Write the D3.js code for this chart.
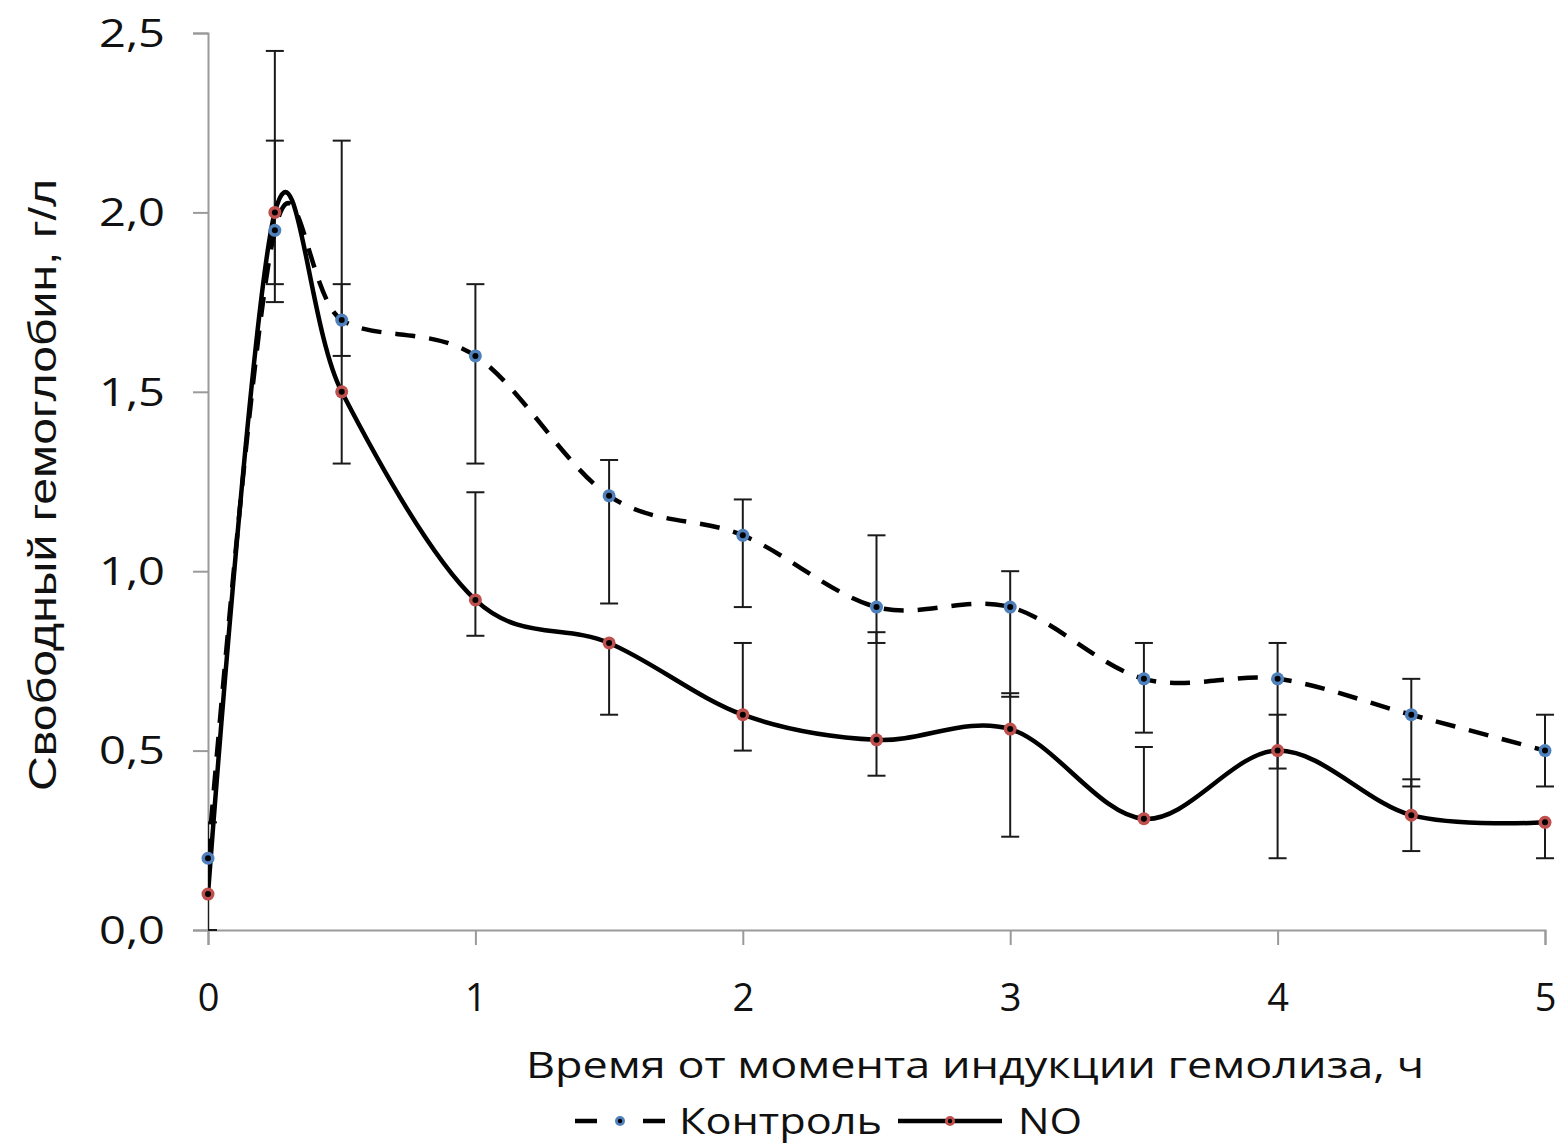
<!DOCTYPE html>
<html><head><meta charset="utf-8">
<script src="https://cdn.jsdelivr.net/npm/d3@7"></script>
<style>body{margin:0;background:#fff}svg{display:block}</style>
</head><body>
<script>
const times = [0, 0.25, 0.5, 1, 1.5, 2, 2.5, 3, 3.5, 4, 4.5, 5];
const controlValues = [0.2, 1.95, 1.7, 1.6, 1.21, 1.1, 0.9, 0.9, 0.7, 0.7, 0.6, 0.5];
const controlLow  = [0.2, 1.75, 1.6, 1.3, 0.91, 0.9, 0.8, 0.65, 0.55, 0.45, 0.4, 0.4];
const controlHigh = [0.3, 2.2, 2.2, 1.8, 1.31, 1.2, 1.1, 1.0, 0.8, 0.8, 0.7, 0.6];
const noValues = [0.1, 2.0, 1.5, 0.92, 0.8, 0.6, 0.53, 0.56, 0.31, 0.5, 0.32, 0.3];
const noLow  = [0.0, 1.8, 1.3, 0.82, 0.6, 0.5, 0.43, 0.26, 0.31, 0.2, 0.22, 0.2];
const noHigh = [0.1, 2.45, 1.8, 1.22, 0.8, 0.8, 0.83, 0.66, 0.51, 0.6, 0.42, 0.3];
const yTicks = [0, 0.5, 1.0, 1.5, 2.0, 2.5];
const xTicks = [0, 1, 2, 3, 4, 5];
const seriesNames = ["Контроль", "NO"];
const seriesColors = ["#4f81bd", "#c0504d"];
const xTitle = "Время от момента индукции гемолиза, ч";
const yTitle = "Свободный гемоглобин, г/л";

const W = 1563, H = 1145;
const svg = d3.select("body").append("svg").attr("width", W).attr("height", H);
const x = d3.scaleLinear().domain([0, 5]).range([208, 1545]);
const y = d3.scaleLinear().domain([0, 2.5]).range([930, 33]);
const font = "'Open Sans', sans-serif";

svg.append("defs").append("clipPath").attr("id", "plot")
  .append("rect").attr("x", 208).attr("y", 0).attr("width", 1360).attr("height", 931);

// axes
const yAxis = svg.append("g").attr("transform", "translate(208,0)")
  .call(d3.axisLeft(y).tickValues(yTicks).tickSize(15).tickPadding(28)
    .tickFormat(d => d3.format(".1f")(d).replace(".", ",")));
const xAxis = svg.append("g").attr("transform", "translate(0,930)")
  .call(d3.axisBottom(x).tickValues(xTicks).tickSize(15).tickPadding(39).tickFormat(d3.format("d")));
[yAxis, xAxis].forEach(g => {
  g.select(".domain").attr("stroke", "#9a9a9a").attr("stroke-width", 2);
  g.selectAll(".tick line").attr("stroke", "#9a9a9a").attr("stroke-width", 2);
  g.selectAll("text").attr("font-family", font).attr("font-size", 38).attr("fill", "#111");
});
yAxis.selectAll("text").attr("dy", "0.35em")
  .attr("textLength", 66).attr("lengthAdjust", "spacingAndGlyphs");

// titles
svg.append("text").attr("x", 975).attr("y", 1078).attr("text-anchor", "middle")
  .attr("font-family", font).attr("font-size", 36).attr("fill", "#111")
  .attr("textLength", 898).attr("lengthAdjust", "spacingAndGlyphs").text(xTitle);
svg.append("text").attr("transform", "translate(56,485) rotate(-90)").attr("text-anchor", "middle")
  .attr("font-family", "'Liberation Sans', sans-serif").attr("font-size", 38).attr("fill", "#111")
  .attr("textLength", 612).attr("lengthAdjust", "spacingAndGlyphs").text(yTitle);

const series = [
  {vals: controlValues, lo: controlLow, hi: controlHigh, dash: "20,14", color: seriesColors[0]},
  {vals: noValues, lo: noLow, hi: noHigh, dash: null, color: seriesColors[1]}
];

const plot = svg.append("g").attr("clip-path", "url(#plot)");
// error bars
series.forEach(s => {
  times.forEach((t, i) => {
    const g = plot.append("g").attr("stroke", "#1a1a1a").attr("stroke-width", 2);
    if (s.hi[i] > s.vals[i]) {
      g.append("line").attr("x1", x(t)).attr("x2", x(t)).attr("y1", y(s.vals[i])).attr("y2", y(s.hi[i]));
      g.append("line").attr("x1", x(t) - 9).attr("x2", x(t) + 9).attr("y1", y(s.hi[i])).attr("y2", y(s.hi[i]));
    }
    if (s.lo[i] < s.vals[i]) {
      g.append("line").attr("x1", x(t)).attr("x2", x(t)).attr("y1", y(s.vals[i])).attr("y2", y(s.lo[i]));
      g.append("line").attr("x1", x(t) - 9).attr("x2", x(t) + 9).attr("y1", y(s.lo[i])).attr("y2", y(s.lo[i]));
    }
  });
});

// lines
const line = d3.line().x(d => x(d[0])).y(d => y(d[1])).curve(d3.curveCardinal.tension(0));
series.forEach(s => {
  const p = plot.append("path").datum(times.map((t, i) => [t, s.vals[i]]))
    .attr("d", line).attr("fill", "none").attr("stroke", "#000").attr("stroke-width", 4.5)
    .attr("stroke-linecap", "round");
  if (s.dash) p.attr("stroke-dasharray", s.dash).attr("stroke-linecap", "butt");
});

// markers
series.forEach(s => {
  times.forEach((t, i) => {
    svg.append("circle").attr("cx", x(t)).attr("cy", y(s.vals[i])).attr("r", 6.5).attr("fill", s.color);
    svg.append("circle").attr("cx", x(t)).attr("cy", y(s.vals[i])).attr("r", 3).attr("fill", "#000");
  });
});

// legend
const leg = svg.append("g");
[[575, 597], [643, 665]].forEach(([a, b]) => leg.append("line").attr("x1", a).attr("x2", b)
  .attr("y1", 1121).attr("y2", 1121).attr("stroke", "#000").attr("stroke-width", 4.5));
leg.append("circle").attr("cx", 620).attr("cy", 1121).attr("r", 5).attr("fill", seriesColors[0]);
leg.append("circle").attr("cx", 620).attr("cy", 1121).attr("r", 2.2).attr("fill", "#000");
leg.append("text").attr("x", 679).attr("y", 1134).attr("font-family", font).attr("font-size", 36)
  .attr("fill", "#111").attr("textLength", 203).attr("lengthAdjust", "spacingAndGlyphs").text(seriesNames[0]);
leg.append("line").attr("x1", 898).attr("x2", 1002).attr("y1", 1121).attr("y2", 1121)
  .attr("stroke", "#000").attr("stroke-width", 4.5);
leg.append("circle").attr("cx", 950).attr("cy", 1121).attr("r", 5).attr("fill", seriesColors[1]);
leg.append("circle").attr("cx", 950).attr("cy", 1121).attr("r", 2.2).attr("fill", "#000");
leg.append("text").attr("x", 1018).attr("y", 1134).attr("font-family", font).attr("font-size", 36)
  .attr("fill", "#111").attr("textLength", 64).attr("lengthAdjust", "spacingAndGlyphs").text(seriesNames[1]);
</script>
</body></html>
